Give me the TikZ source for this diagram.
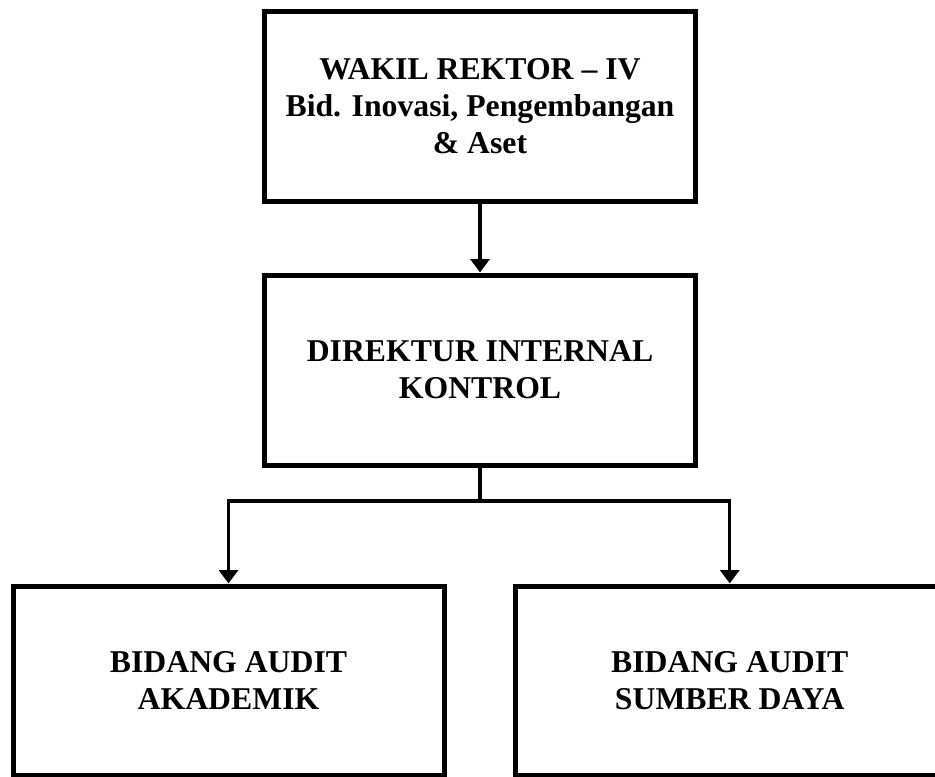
\documentclass[tikz,border=0pt]{standalone}
\usepackage{fontspec}
\setmainfont{Liberation Serif}
\usetikzlibrary{arrows.meta}
\tikzset{
  orgbox/.style={draw=black, line width=3.75pt, fill=white, inner sep=0pt,
    minimum width=431*0.75pt, minimum height=190*0.75pt, align=center,
    font=\fontsize{23.8pt}{27.75pt}\selectfont\bfseries},
  conn/.style={draw=black, line width=2.5pt},
  arr/.style={conn, -{Triangle[width=14pt, length=10pt]}}
}
\begin{document}
\begin{tikzpicture}[x=0.75pt, y=-0.75pt]
\useasboundingbox (0,0) rectangle (935,776);
\fill[white] (0,0) rectangle (935,776);
\clip (0,0) rectangle (935,776);
\node[orgbox, minimum height=190.5*0.75pt] (top) at (480,106.25) {WAKIL REKTOR -- IV\\Bid. Inovasi, Pengembangan\\\& Aset};
\node[orgbox] (mid) at (480,370) {DIREKTUR INTERNAL\\KONTROL};
\node[orgbox, minimum height=189.5*0.75pt] (bl) at (228.5,680.75) {BIDANG AUDIT\\AKADEMIK};
\node[orgbox, minimum width=428.5*0.75pt, minimum height=189.5*0.75pt] (br) at (729.75,680.75) {BIDANG AUDIT\\SUMBER DAYA};
\coordinate (split) at (480,501);
\draw[arr] (top.south) -- (mid.north);
\draw[conn] (mid.south) -- (split);
\draw[arr] (split) -| (bl.north);
\draw[arr] (split) -| (br.north);
\end{tikzpicture}
\end{document}
